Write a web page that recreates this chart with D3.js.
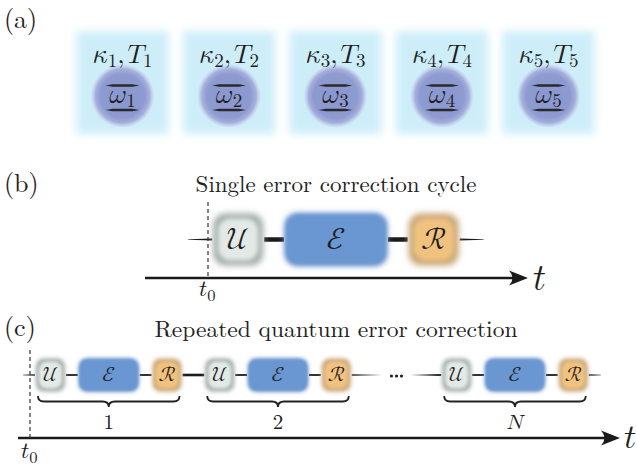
<!DOCTYPE html>
<html>
<head>
<meta charset="utf-8">
<script src="https://cdn.jsdelivr.net/npm/d3@7"></script>
<style>
  body { margin: 0; background: #fff; }
</style>
</head>
<body>
<svg id="fig" width="637" height="468"></svg>
<script>
// modes of panel (a)
var modes = [1, 2, 3, 4, 5];
// one correction cycle: operation, symbol and duration (time units)
var ops = ["U", "E", "R"];
var opSymbols = {U: "\uD835\uDCB0", E: "\u2130", R: "\u211B"};
var opDurations = [1, 2, 1];
var opGap = 0.38;
var cycleLabels = ["1", "2", "N"];
var cycleStarts = [0, 1, 2.4]; // in cycles
var titleB = "Single error correction cycle";
var titleC = "Repeated quantum error correction";

var ROMAN = "'Latin Modern Roman', 'Liberation Serif', serif";
var MATH = "'Latin Modern Math', 'STIX Two Math', serif";
var ITAL = {kappa: "\uD835\uDF05", omega: "\uD835\uDF14", T: "\uD835\uDC47", t: "\uD835\uDC61", N: "\uD835\uDC41"};

var opFill = {U: "#e2e9e6", E: "#6b96d1", R: "#f1c27f"};
var opEdge = {U: "#a3aca8", E: "#6690cc", R: "#c9a677"};

var svg = d3.select("#fig");
var defs = svg.append("defs");
function blur(id, s) {
  defs.append("filter").attr("id", id).attr("x", "-50%").attr("y", "-50%")
    .attr("width", "200%").attr("height", "200%")
    .append("feGaussianBlur").attr("stdDeviation", s);
}
blur("b5", 4.5); blur("b3", 3.2); blur("b2", 2.2); blur("b1", 1.4);

var rg = defs.append("radialGradient").attr("id", "mode");
[[0, "#8a97cf", 1], [0.7, "#8e9bd1", 1], [0.86, "#a5b0dc", 1], [1, "#d2dcf2", 0.5]].forEach(function (s) {
  rg.append("stop").attr("offset", s[0]).attr("stop-color", s[1]).attr("stop-opacity", s[2]);
});

function label(x, y, t) {
  svg.append("text").attr("x", x).attr("y", y).attr("font-family", ROMAN).attr("font-size", 26).attr("fill", "#222").text(t);
}
label(4, 28, "(a)");
label(4, 192, "(b)");
label(4, 336, "(c)");

// ---- panel (a)
var xm = d3.scalePoint().domain(modes).range([122.5, 548.5]);
var ga = svg.append("g");
ga.selectAll("rect.sq").data(modes).enter().append("rect")
  .attr("x", function (d) { return xm(d) - 46; }).attr("y", 31)
  .attr("width", 92).attr("height", 103)
  .attr("fill", "#cdeef9").attr("filter", "url(#b5)");
ga.selectAll("circle").data(modes).enter().append("circle")
  .attr("cx", xm).attr("cy", 96).attr("r", 31.5).attr("fill", "url(#mode)");
var kt = ga.selectAll("text.k").data(modes).enter().append("text")
  .attr("x", xm).attr("y", 63).attr("text-anchor", "middle")
  .attr("font-family", MATH).attr("font-size", 26.5).attr("fill", "#1e1e1e");
kt.append("tspan").text(ITAL.kappa);
kt.append("tspan").attr("font-size", 19).attr("dy", 4).text(function (d) { return d; });
kt.append("tspan").attr("dy", -4).text(",");
kt.append("tspan").attr("dx", 3).text(ITAL.T);
kt.append("tspan").attr("font-size", 19).attr("dy", 4).text(function (d) { return d; });
var wt = ga.selectAll("text.w").data(modes).enter().append("text")
  .attr("x", xm).attr("y", 103).attr("text-anchor", "middle")
  .attr("font-family", MATH).attr("font-size", 27).attr("fill", "#1e1e1e");
wt.append("tspan").text(ITAL.omega);
wt.append("tspan").attr("font-size", 19).attr("dy", 4).text(function (d) { return d; });
[85.5, 110].forEach(function (y) {
  ga.selectAll(null).data(modes).enter().append("path")
    .attr("d", function (d) {
      var x = xm(d);
      return "M" + (x - 17) + "," + y + "L" + (x - 10) + "," + (y - 1.2) + "L" + (x + 10) + "," + (y - 1.2) +
        "L" + (x + 17) + "," + y + "L" + (x + 10) + "," + (y + 1.2) + "L" + (x - 10) + "," + (y + 1.2) + "Z";
    })
    .attr("fill", "#2a2a2a");
});

// ---- helpers
function taper(g, x0, x1, w0, w1, y) {
  g.append("path")
    .attr("d", "M" + x0 + "," + (y - w0 / 2) + "L" + x1 + "," + (y - w1 / 2) + "L" + x1 + "," + (y + w1 / 2) + "L" + x0 + "," + (y + w0 / 2) + "Z")
    .attr("fill", "#1a1a1a");
}
function box(g, op, x0, x1, y, h, fs) {
  var big = h > 40;
  var r = big ? 12 : 8;
  g.append("rect").attr("x", x0 + 1).attr("y", y - h / 2 + 1).attr("width", x1 - x0 - 2).attr("height", h - 2)
    .attr("rx", r).attr("fill", opEdge[op]).attr("filter", big ? "url(#b3)" : "url(#b2)");
  var ins = op === "E" ? 2 : (big ? 6 : 4);
  g.append("rect").attr("x", x0 + ins).attr("y", y - h / 2 + ins).attr("width", x1 - x0 - 2 * ins).attr("height", h - 2 * ins)
    .attr("rx", r).attr("fill", opFill[op]).attr("filter", big ? "url(#b2)" : "url(#b1)");
  g.append("text").attr("x", (x0 + x1) / 2).attr("y", y + fs * 0.3).attr("text-anchor", "middle")
    .attr("font-family", MATH).attr("font-size", fs).attr("fill", "#1e1e1e").text(opSymbols[op]);
}
function cycleEdges(start) {
  var t = start, out = [];
  opDurations.forEach(function (d, i) {
    out.push([ops[i], t, t + d]);
    t += d + opGap;
  });
  return out;
}
function arrow(g, x0, x1, y, w) {
  g.append("line").attr("x1", x0).attr("x2", x1 - 8).attr("y1", y).attr("y2", y)
    .attr("stroke", "#1a1a1a").attr("stroke-width", w);
  g.append("path")
    .attr("d", "M" + x1 + "," + y + "L" + (x1 - 19) + "," + (y - 7.5) + "Q" + (x1 - 12) + "," + y + " " + (x1 - 19) + "," + (y + 7.5) + "Z")
    .attr("fill", "#1a1a1a");
}
function tLabel(g, x, y, fs, sub) {
  var t = g.append("text").attr("x", x).attr("y", y).attr("font-family", MATH).attr("font-size", fs).attr("fill", "#1e1e1e");
  t.append("tspan").text(ITAL.t);
  if (sub) t.append("tspan").attr("font-size", fs * 0.72).attr("dy", fs * 0.2).text(sub);
}

// ---- panel (b)
var gb = svg.append("g");
var xb = d3.scaleLinear().domain([0, 1]).range([208, 260]);
var yb = 239.5;
gb.append("text").attr("x", 336).attr("y", 192).attr("text-anchor", "middle")
  .attr("font-family", ROMAN).attr("font-size", 23).attr("fill", "#222").text(titleB);
arrow(gb, 145, 528, 278, 2.6);
tLabel(gb, 533, 289, 36);
tLabel(gb, 199, 296, 23, "0");
var eb = cycleEdges(0.08);
taper(gb, xb(eb[0][1]) - 24, xb(eb[0][1]), 0.3, 2, yb);
taper(gb, xb(eb[2][2]), xb(eb[2][2]) + 24, 2, 0.3, yb);
for (var i = 0; i < eb.length - 1; i++) taper(gb, xb(eb[i][2]), xb(eb[i + 1][1]), 4.5, 4.5, yb);
eb.forEach(function (e) { box(gb, e[0], xb(e[1]), xb(e[2]), yb, 54, 31); });
gb.append("line").attr("x1", 208).attr("x2", 208).attr("y1", 202).attr("y2", 278)
  .attr("stroke", "#333").attr("stroke-width", 1.2).attr("stroke-dasharray", "4,3");

// ---- panel (c)
var gc = svg.append("g");
var period = d3.sum(opDurations) + opGap * (ops.length - 1) + 0.7;
var xc = d3.scaleLinear().domain([0, 1]).range([30, 61]);
var yc = 375;
gc.append("text").attr("x", 336).attr("y", 337).attr("text-anchor", "middle")
  .attr("font-family", ROMAN).attr("font-size", 23.5).attr("fill", "#222").text(titleC);
arrow(gc, 18, 620, 438, 2.6);
tLabel(gc, 624, 448, 34);
tLabel(gc, 21, 458, 23, "0");
var cycles = cycleStarts.map(function (c) { return cycleEdges(0.16 + c * period); });
taper(gc, xc(cycles[0][0][1]) - 12, xc(cycles[0][0][1]), 0.4, 1.4, yc);
cycles.forEach(function (cy) {
  for (var i = 0; i < cy.length - 1; i++) taper(gc, xc(cy[i][2]), xc(cy[i + 1][1]), 1.8, 1.8, yc);
});
taper(gc, xc(cycles[0][2][2]), xc(cycles[1][0][1]), 2.6, 2.6, yc);
var dotsX = (xc(cycles[1][2][2]) + xc(cycles[2][0][1])) / 2;
taper(gc, xc(cycles[1][2][2]), dotsX - 14, 1.6, 0.2, yc);
taper(gc, dotsX + 14, xc(cycles[2][0][1]), 0.2, 1.8, yc);
taper(gc, xc(cycles[2][2][2]), xc(cycles[2][2][2]) + 12, 1.4, 0.3, yc);
[-5, 0, 5].forEach(function (d) {
  gc.append("circle").attr("cx", dotsX + d).attr("cy", yc + 1).attr("r", 1.6).attr("fill", "#222");
});
cycles.forEach(function (cy) {
  cy.forEach(function (e) { box(gc, e[0], xc(e[1]), xc(e[2]), yc, 35, 21); });
});
// braces
cycles.forEach(function (cy, k) {
  var x0 = xc(cy[0][1]) + 3, x1 = xc(cy[2][2]) - 3, xm2 = (x0 + x1) / 2, y0 = 396, y1 = 407;
  var ym = (y0 + y1) / 2;
  var p = "M" + x0 + "," + y0 + "Q" + x0 + "," + ym + " " + (x0 + 6) + "," + ym +
    "L" + (xm2 - 6) + "," + ym + "Q" + xm2 + "," + ym + " " + xm2 + "," + y1 +
    "Q" + xm2 + "," + ym + " " + (xm2 + 6) + "," + ym +
    "L" + (x1 - 6) + "," + ym + "Q" + x1 + "," + ym + " " + x1 + "," + y0;
  gc.append("path").attr("d", p).attr("fill", "none").attr("stroke", "#222").attr("stroke-width", 1.8);
  var isN = cycleLabels[k] === "N";
  gc.append("text").attr("x", xm2).attr("y", 429).attr("text-anchor", "middle")
    .attr("font-family", isN ? MATH : ROMAN).attr("font-size", 21).attr("fill", "#222")
    .text(isN ? ITAL.N : cycleLabels[k]);
});
gc.append("line").attr("x1", 30).attr("x2", 30).attr("y1", 350).attr("y2", 438)
  .attr("stroke", "#333").attr("stroke-width", 1.2).attr("stroke-dasharray", "4,3");
</script>
</body>
</html>
